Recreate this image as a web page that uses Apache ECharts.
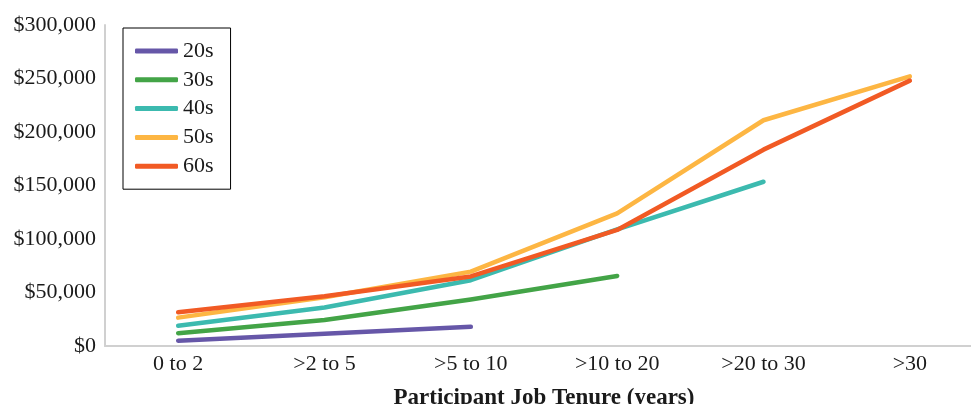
<!DOCTYPE html>
<html>
<head>
<meta charset="utf-8">
<script src="https://cdn.jsdelivr.net/npm/echarts@6/dist/echarts.min.js"></script>
<style>
  html, body { margin: 0; padding: 0; background: #fff; }
  #chart { width: 971px; height: 404px; }
</style>
</head>
<body>
<div id="chart"></div>
<script>
const categories = ['0 to 2', '>2 to 5', '>5 to 10', '>10 to 20', '>20 to 30', '>30']
const s20 = [5000, 11500, 18000, null, null, null]
const s30 = [12000, 24300, 43500, 65500, null, null]
const s40 = [19000, 36000, 61500, 109000, 153500, null]
const s50 = [26500, 45500, 69500, 124000, 211000, 252000]
const s60 = [31500, 46500, 65000, 108500, 183500, 248000]

const names = ['20s', '30s', '40s', '50s', '60s']
const colors = ['#6657a8', '#43a447', '#3cbaaf', '#fdb643', '#f15a24']
const font = '"Liberation Serif", "Times New Roman", serif'

const chart = echarts.init(document.getElementById('chart'))

function mkSeries(name, data, color) {
  return {
    name: name,
    type: 'line',
    data: data,
    symbol: 'none',
    connectNulls: false,
    lineStyle: { width: 4.5, color: color, cap: 'round', join: 'round' },
    itemStyle: { color: color },
    animation: false
  }
}

chart.setOption({
  color: colors,
  textStyle: { fontFamily: font },
  grid: { left: 105, top: 25, bottom: 58, right: -12, outerBoundsMode: 'none', containLabel: false },
  legend: {
    orient: 'vertical',
    left: 123,
    top: 28,
    data: names,
    icon: 'roundRect',
    itemWidth: 43,
    itemHeight: 5,
    itemGap: 6.8,
    borderColor: '#000',
    borderWidth: 1,
    padding: [12, 17, 12, 12],
    textStyle: { fontFamily: font, fontSize: 22, color: '#1a1a1a', lineHeight: 22 }
  },
  xAxis: {
    type: 'category',
    data: categories,
    boundaryGap: true,
    axisLine: { lineStyle: { color: '#d0d0d0', width: 2 } },
    axisTick: { show: false },
    axisLabel: { fontFamily: font, fontSize: 22, color: '#1a1a1a', margin: 7 },
    name: 'Participant Job Tenure (years)',
    nameLocation: 'middle',
    nameGap: 41,
    nameTextStyle: { fontFamily: font, fontSize: 23, fontWeight: 'bold', color: '#1a1a1a' }
  },
  yAxis: {
    type: 'value',
    min: 0,
    max: 300000,
    interval: 50000,
    splitLine: { show: false },
    axisLine: { show: true, lineStyle: { color: '#d0d0d0', width: 2 } },
    axisTick: { show: false },
    axisLabel: {
      fontFamily: font, fontSize: 22, color: '#1a1a1a', margin: 9,
      formatter: v => '$' + v.toLocaleString('en-US')
    }
  },
  series: [
    mkSeries('20s', s20, colors[0]),
    mkSeries('30s', s30, colors[1]),
    mkSeries('40s', s40, colors[2]),
    mkSeries('50s', s50, colors[3]),
    mkSeries('60s', s60, colors[4])
  ]
})
</script>
</body>
</html>
